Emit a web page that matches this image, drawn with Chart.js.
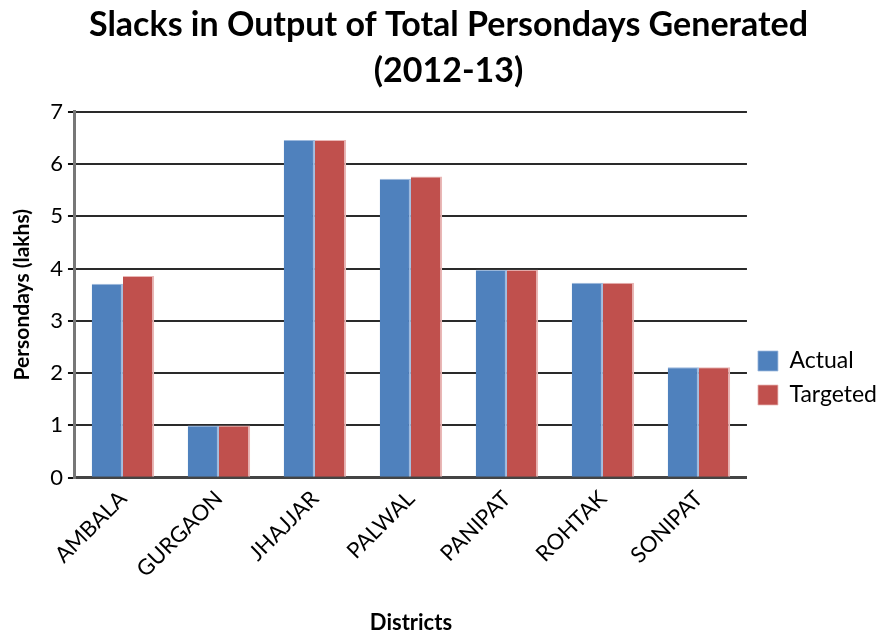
<!DOCTYPE html>
<html>
<head>
<meta charset="utf-8">
<script src="https://cdn.jsdelivr.net/npm/chart.js@4/dist/chart.umd.min.js"></script>
<style>
  html, body { margin: 0; padding: 0; background: #fff; }
  #wrap { width: 887px; height: 636px; }
</style>
</head>
<body>
<div id="wrap"><canvas id="c" width="887" height="636"></canvas></div>
<script>
// Persondays generated per district, 2012-13 (lakhs)
const districts = ['AMBALA', 'GURGAON', 'JHAJJAR', 'PALWAL', 'PANIPAT', 'ROHTAK', 'SONIPAT'];
const actual    = [3.71, 1.00, 6.46, 5.72, 3.98, 3.73, 2.11];
const targeted  = [3.86, 1.00, 6.46, 5.76, 3.98, 3.73, 2.11];
const yTicks    = [0, 1, 2, 3, 4, 5, 6, 7];

const FONT = 'Lato, "Open Sans", "DejaVu Sans", sans-serif';
const edge = { top: 1, right: 2, bottom: 0, left: 0 };

new Chart(document.getElementById('c'), {
  type: 'bar',
  data: {
    labels: districts,
    datasets: [
      { label: 'Actual', data: actual, backgroundColor: '#4f81bd',
        borderColor: '#9db9dd', borderWidth: edge, borderSkipped: false },
      { label: 'Targeted', data: targeted, backgroundColor: '#c0504d',
        borderColor: '#e9b7b6', borderWidth: edge, borderSkipped: false }
    ]
  },
  options: {
    responsive: false,
    animation: false,
    devicePixelRatio: 1,
    layout: { padding: { top: 2, left: 10, right: 0, bottom: 0 } },
    categoryPercentage: 0.65,
    barPercentage: 1.0,
    plugins: {
      title: {
        display: true,
        text: ['Slacks in Output of Total Persondays Generated', '(2012-13)'],
        color: '#000',
        font: { family: FONT, size: 34, weight: 'bold', lineHeight: 1.35 },
        padding: { top: 0, bottom: 18 }
      },
      legend: {
        position: 'right',
        align: 'center',
        title: { display: true, text: ' ', padding: { top: 106, bottom: 0 }, font: { size: 10 } },
        labels: {
          color: '#000',
          font: { family: FONT, size: 23 },
          boxWidth: 20,
          boxHeight: 20,
          padding: 11
        }
      },
      tooltip: { enabled: false }
    },
    scales: {
      x: {
        grid: { display: false, drawTicks: false },
        border: { display: true, color: '#444', width: 3 },
        ticks: {
          color: '#000',
          font: { family: FONT, size: 22 },
          maxRotation: 45,
          minRotation: 45,
          padding: 8
        },
        title: {
          display: true,
          text: 'Districts',
          color: '#000',
          font: { family: FONT, size: 22, weight: 'bold' },
          padding: { top: 19, bottom: 0 }
        }
      },
      y: {
        min: 0,
        max: 7,
        afterBuildTicks: (axis) => { axis.ticks = yTicks.map(v => ({ value: v })); },
        grid: { color: '#2a2a2a', lineWidth: 2, tickLength: 7, tickColor: '#111' },
        border: { display: true, color: '#777', width: 3 },
        ticks: {
          color: '#000',
          font: { family: FONT, size: 22 },
          padding: 5
        },
        title: {
          display: true,
          text: 'Persondays (lakhs)',
          color: '#000',
          font: { family: FONT, size: 21, weight: 'bold' },
          padding: { top: 0, bottom: 10 }
        }
      }
    }
  }
});
</script>
</body>
</html>
